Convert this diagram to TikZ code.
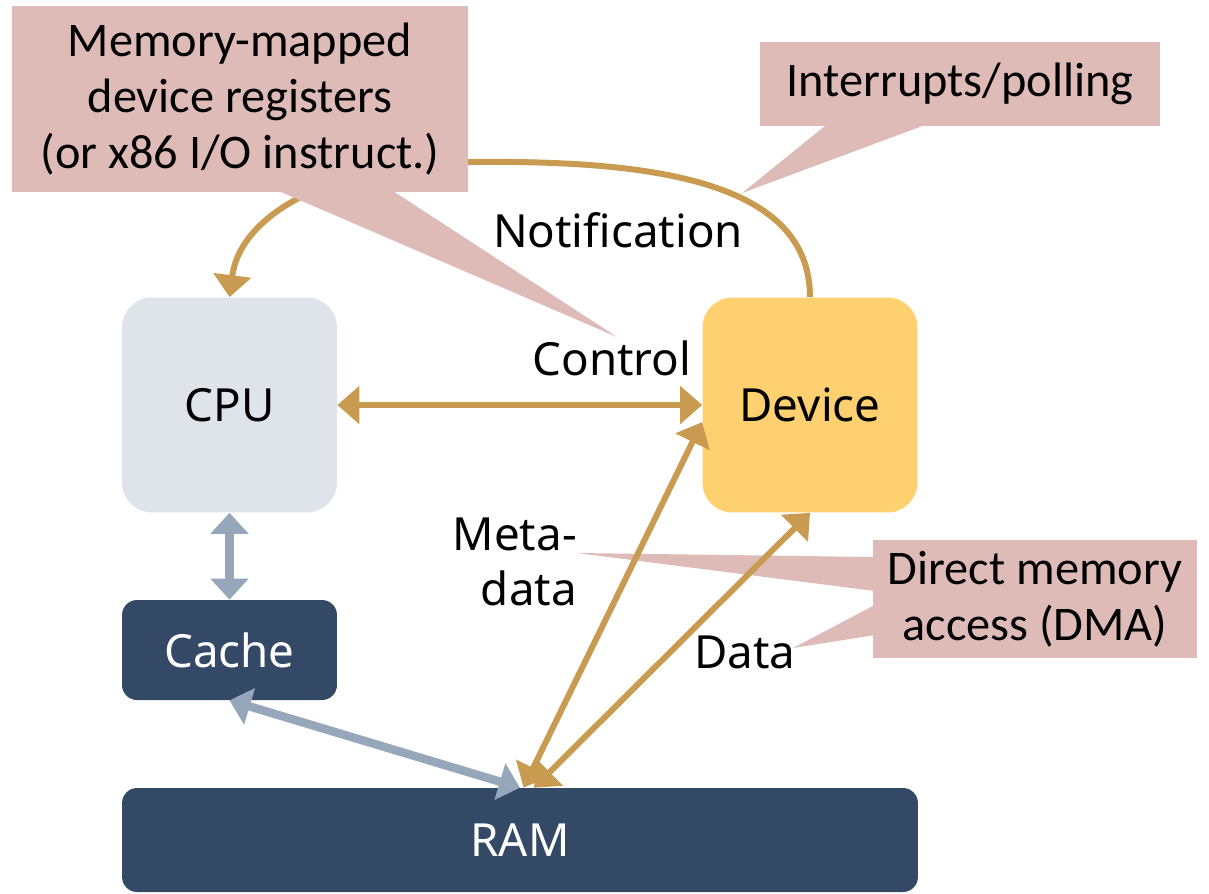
\documentclass[tikz,border=0pt]{standalone}
\usepackage{fontspec}
\setmainfont{Noto Sans}
\newfontfamily\notefont{Carlito}
\usepackage{tikz}
\usetikzlibrary{arrows.meta, positioning, calc}
\usepackage{xcolor}

\definecolor{cpugray}{RGB}{223,227,234}
\definecolor{devyellow}{RGB}{254,208,111}
\definecolor{memblue}{RGB}{52,73,101}
\definecolor{busgold}{RGB}{200,155,80}
\definecolor{linkgray}{RGB}{151,167,187}
\definecolor{notepink}{RGB}{223,187,183}

\begin{document}
\begin{tikzpicture}[x=0.02cm, y=-0.02cm,
		unit/.style={rounded corners=0.6cm, minimum width=4.3cm, minimum height=4.3cm, font=\fontsize{26}{30}\selectfont},
		mem/.style={fill=memblue, text=white, rounded corners=0.3cm, font=\fontsize{26}{30}\selectfont},
		note/.style={fill=notepink, align=center, font=\notefont\fontsize{27.5}{32}\selectfont},
		wire/.style={busgold, line width=0.12cm, {Triangle[width=0.74cm, length=0.44cm]}-{Triangle[width=0.74cm, length=0.44cm]}},
		link/.style={linkgray, line width=0.17cm, {Triangle[width=0.74cm, length=0.42cm]}-{Triangle[width=0.74cm, length=0.42cm]}},
		lbl/.style={font=\fontsize{26}{31}\selectfont}]
			% Page frame
			\useasboundingbox (0,0) rectangle (1209,893);
			
			% Draw the components
			\node[unit, fill=cpugray] (CPU) at (229.5,405) {CPU};
			\node[unit, fill=devyellow] (Device) at (810,405) {Device};
			\node[mem, minimum width=4.3cm, minimum height=2cm] (Cache) at (229.5,650) {Cache};
			\node[mem, minimum width=15.92cm, minimum height=2.08cm] (RAM) at (520,840) {RAM};
			
			% DMA callout (sits below the arrows)
			\node[note, minimum width=6.48cm, minimum height=2.36cm] (DMA) at (1035,599) {Direct memory\\access (DMA)};
			\coordinate (MetaTip) at (577,553);
			\coordinate (DataTip) at (793,648);
			\fill[notepink] ($(DMA.west)+(2,-42)$) -- (MetaTip) -- ($(DMA.west)+(2,-8)$) -- cycle;
			\fill[notepink] ($(DMA.west)+(2,6)$) -- (DataTip) -- ($(DMA.west)+(2,36)$) -- cycle;
			
			% Draw the connections
			\draw[link] (CPU.south) -- (Cache.north);
			\draw[link] (Cache.south) -- (RAM.north);
			\draw[wire] (CPU.east) -- (Device.west);
			\draw[wire] ([xshift=2]RAM.north) -- (Device.189);
			\draw[wire] ([xshift=8]RAM.north) -- (Device.south);
			\draw[busgold, line width=0.12cm, -{Triangle[width=0.74cm, length=0.44cm]}]
				(Device.north) .. controls (810,180) and (650,160) .. (470,162)
				.. controls (330,163) and (240,215) .. (CPU.north);
			
			% Add the labels
			\node[lbl] (notif) at (618,230) {Notification};
			\node[lbl] (ctrl) at (612,358) {Control};
			\node[lbl, align=right, anchor=east] (meta) at (583,562) {Meta-\\data};
			\node[lbl] (data) at (745,652) {Data};
			
			% Register callout
			\node[note, minimum width=9.12cm, minimum height=3.72cm] (MMIO) at (240,99) {Memory-mapped\\device registers\\(or x86 I/O instruct.)};
			\coordinate (CtrlTip) at (617,337);
			\fill[notepink] ($(MMIO.south)+(37,-2)$) -- (CtrlTip) -- ($(MMIO.south)+(152,-2)$) -- cycle;
			
			% Interrupt callout
			\node[note, minimum width=8cm, minimum height=1.68cm] (IRQ) at (960,84) {Interrupts/polling};
			\coordinate (IrqTip) at (742,193);
			\fill[notepink] ($(IRQ.south)+(-133,-2)$) -- (IrqTip) -- ($(IRQ.south)+(-33,-2)$) -- cycle;
		\end{tikzpicture}
\end{document}
